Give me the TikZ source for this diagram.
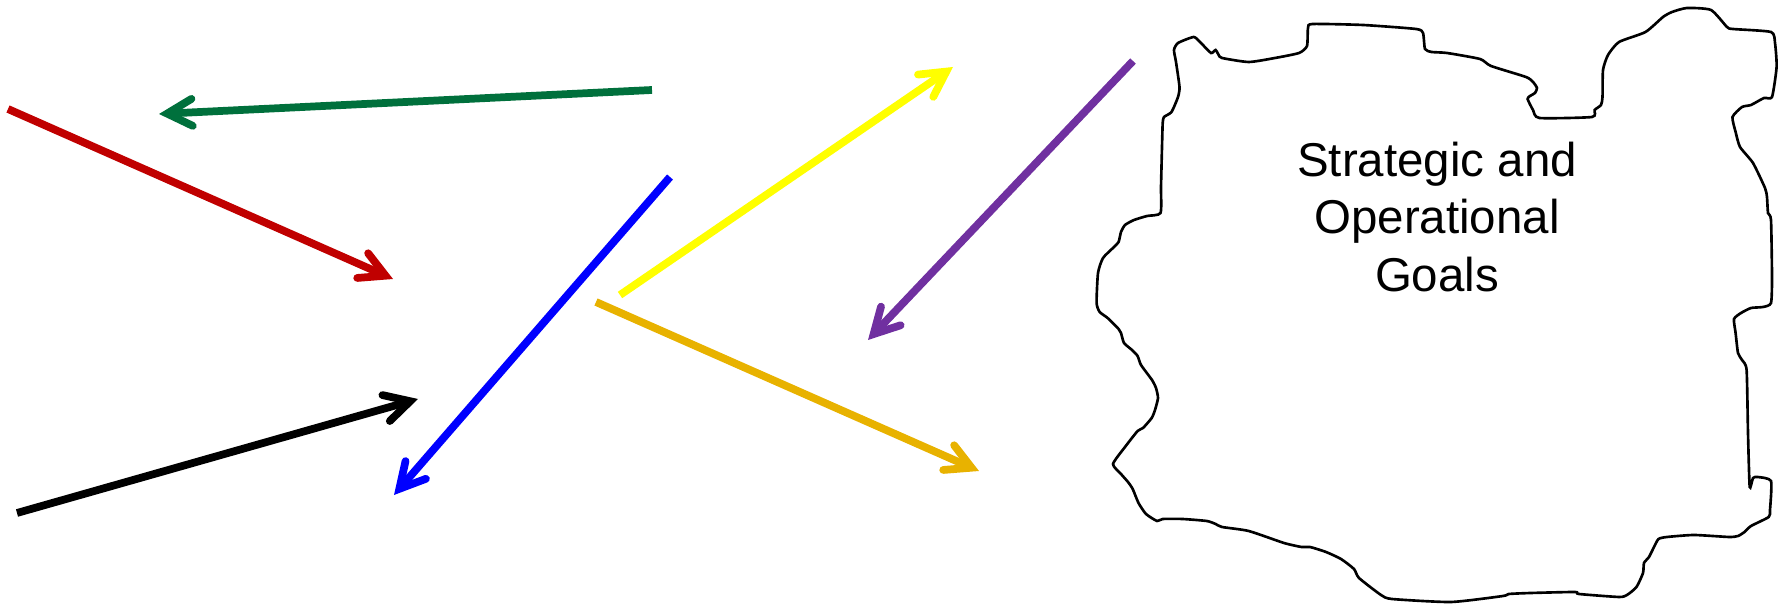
\documentclass[tikz,border=0pt]{standalone}
\usepackage{fontspec}
\setmainfont{Liberation Sans}
\usetikzlibrary{arrows.meta}
\definecolor{cRed}{RGB}{192,0,0}
\definecolor{cGreen}{RGB}{0,112,60}
\definecolor{cBlue}{RGB}{0,0,255}
\definecolor{cYellow}{RGB}{255,255,0}
\definecolor{cGold}{RGB}{232,178,0}
\definecolor{cPurple}{RGB}{112,48,160}
\tikzset{
  arr/.style={line width=2.2pt, -{Straight Barb[length=0.25cm, width=0.27cm, line cap=round]}},
  blob/.style={draw=black, line width=0.75pt, fill=white},
  goaltext/.style={align=center, font=\fontsize{13.5pt}{16.3pt}\selectfont, inner sep=0pt}
}
\begin{document}
\begin{tikzpicture}[x=0.01cm, y=-0.01cm]
\useasboundingbox (0,0) rectangle (1781,604);
% cloud-like outline
\draw[blob] plot[smooth cycle, tension=0.35] coordinates {
(1164,117) (1171.5,112) (1178,97) (1179.5,87) (1176,62) (1174,50) (1178,43) (1193.6,37) (1200,42) (1211,53) (1215.6,50) (1218.7,55) (1222,58) (1248.7,62) (1275,58) (1299,53) (1307,46) (1308,28) (1312.5,24) (1363,25) (1416,29) (1423,33) (1425,49) (1431.6,52) (1447,53) (1480,59) (1491,66) (1526,77) (1533,82) (1537,88) (1535,93) (1530,96) (1527.6,99) (1533,110) (1539.5,118) (1592,117) (1594.6,110) (1601,105) (1602.5,97) (1603,70) (1608,55) (1619,42) (1645.5,32) (1663,17) (1672,12) (1687,8) (1711,10) (1727,27) (1733,29) (1771,32) (1775,43) (1776.6,67) (1772,97) (1764,98) (1751,105) (1742,107) (1732.5,117) (1735.6,132) (1740,147) (1753,163) (1765,188) (1767,197) (1768,213) (1771,220) (1772,277) (1771,303) (1763,307) (1751,308) (1741,313) (1734,319) (1735.6,333) (1738,353) (1742,360) (1746.6,370) (1748,433) (1749.7,487) (1753,478) (1757.6,477) (1771,481) (1770,510) (1768.7,517) (1751,526) (1744.5,532) (1738,536) (1729,537) (1694,535) (1667,537) (1658.5,539) (1654,547) (1649,557) (1644,563) (1643,573) (1636.5,587) (1627,595) (1619,597) (1579,594) (1575,592) (1530.7,593) (1508.7,594) (1503,596) (1451,602) (1392,599) (1381,595) (1359,578) (1354,569) (1341,559) (1326,552) (1310,547) (1301.5,547) (1284,543) (1248.7,531) (1222,527) (1215.6,524) (1206.8,521) (1182.5,519) (1162.7,519) (1157,521) (1146,514) (1138.5,503) (1132.7,489) (1128,482) (1121,474) (1113,464) (1125,447) (1137.6,431) (1143,428) (1151.7,418) (1155,410) (1158,398) (1156,388) (1152,380) (1141,365) (1137.6,356) (1132,350) (1124,343) (1121,333) (1118.6,329) (1107.6,318) (1099.7,312) (1096.6,303) (1098,273) (1103,258) (1114,247) (1118.6,242) (1121,232) (1125,225) (1134,220) (1147,216) (1160.5,213) (1161,187) (1162,147) (1162.7,123)};
\node[goaltext] (goals) at (1437,217) {Strategic and\\Operational\\Goals};
% arrow end points
\coordinate (redA) at (8,109);     \coordinate (redB) at (393,279);
\coordinate (greenA) at (652,90);  \coordinate (greenB) at (159,114);
\coordinate (blueA) at (670,177);  \coordinate (blueB) at (394,495);
\coordinate (yelA) at (620,295);   \coordinate (yelB) at (953,67);
\coordinate (goldA) at (596,302);  \coordinate (goldB) at (979,471);
\coordinate (purA) at (1133,61);   \coordinate (purB) at (868,340);
\coordinate (blkA) at (17,513);    \coordinate (blkB) at (418,399);
\draw[arr, cRed] (redA) -- (redB);
\draw[arr, cGreen] (greenA) -- (greenB);
\draw[arr, cBlue] (blueA) -- (blueB);
\draw[arr, cYellow] (yelA) -- (yelB);
\draw[arr, cGold] (goldA) -- (goldB);
\draw[arr, cPurple] (purA) -- (purB);
\draw[arr, black] (blkA) -- (blkB);
\end{tikzpicture}
\end{document}
